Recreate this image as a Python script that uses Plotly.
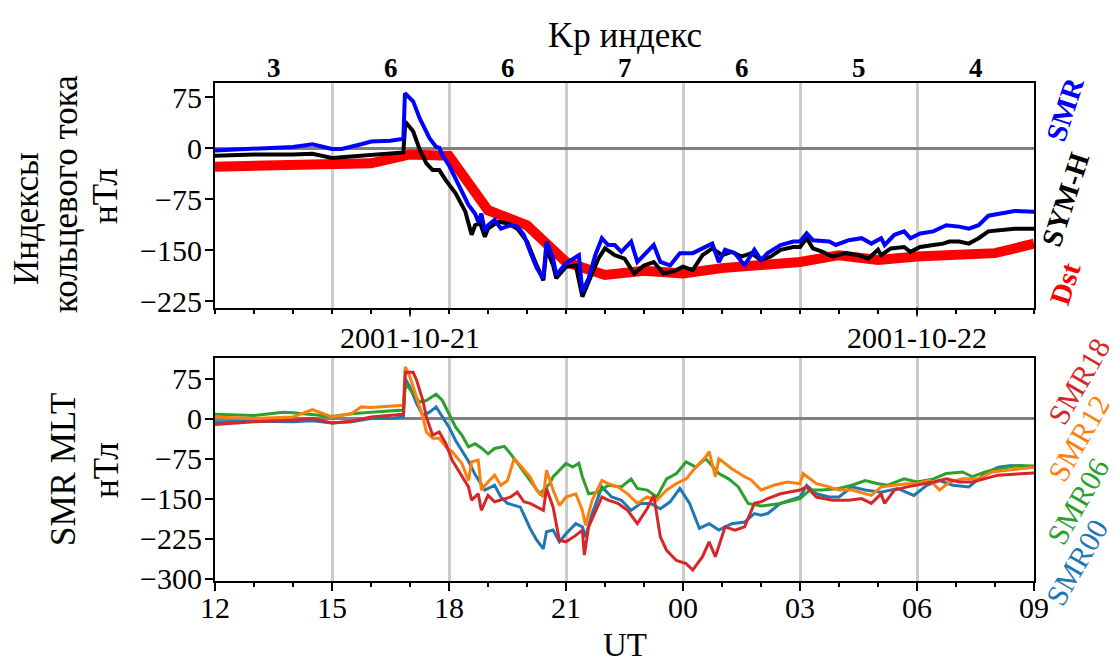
import plotly.graph_objects as go

# ---------------- data ----------------
hour_tick_vals = [12, 15, 18, 21, 24, 27, 30, 33]
hour_tick_text = ["12", "15", "18", "21", "00", "03", "06", "09"]
date_tick_vals = [17, 30]
date_tick_text = ["2001-10-21", "2001-10-22"]
kp_pos = [13.5, 16.5, 19.5, 22.5, 25.5, 28.5, 31.5]
kp_vals = ["3", "6", "6", "7", "6", "5", "4"]
top_yticks = [-225, -150, -75, 0, 75]
bot_yticks = [-300, -225, -150, -75, 0, 75]

# hours since 2001-10-21 00:00 UT
dst_t = list(range(12, 34))
dst_v = [-27, -26, -25, -24, -22, -9, -11, -91, -113, -167, -186, -180, -184,
         -176, -172, -167, -157, -164, -159, -157, -154, -140]

symh_t = [12.00, 13.00, 14.00, 14.50, 15.00, 15.50, 16.00, 16.50, 16.83, 16.88, 17.08, 17.25,
          17.42, 17.58, 17.75, 17.92, 18.17, 18.42, 18.58, 18.67, 18.80, 18.92, 19.00, 19.25,
          19.50, 19.75, 20.00, 20.25, 20.42, 20.50, 20.67, 20.75, 21.00, 21.25, 21.42, 21.58,
          21.83, 22.00, 22.25, 22.50, 22.75, 23.00, 23.25, 23.50, 23.75, 24.00, 24.25, 24.50,
          24.75, 25.00, 25.25, 25.50, 25.75, 26.00, 26.25, 26.50, 26.83, 27.00, 27.17, 27.33,
          27.58, 27.83, 28.17, 28.50, 28.75, 29.00, 29.08, 29.33, 29.67, 29.83, 30.08, 30.42,
          30.67, 30.83, 31.08, 31.33, 31.58, 31.83, 32.17, 32.50, 33.00]
symh_v = [-11, -9, -9, -8, -14, -12, -9, -7, -6, 39, 25, -2,
          -22, -32, -32, -47, -66, -93, -127, -113, -110, -130, -118, -108,
          -110, -118, -137, -172, -194, -147, -172, -191, -174, -172, -218, -196,
          -162, -147, -157, -162, -184, -172, -167, -184, -181, -174, -179, -157,
          -147, -157, -152, -159, -154, -164, -159, -149, -145, -145, -132, -147,
          -152, -159, -154, -157, -162, -149, -157, -147, -145, -152, -145, -142,
          -140, -137, -137, -140, -132, -122, -120, -118, -118]

smr_t = [12.00, 12.50, 13.00, 13.50, 14.00, 14.50, 14.75, 15.00, 15.25, 15.50, 15.75, 16.00,
         16.50, 16.83, 16.87, 17.08, 17.25, 17.50, 17.67, 17.75, 17.83, 18.00, 18.25, 18.50,
         18.67, 18.75, 18.83, 18.92, 19.00, 19.17, 19.33, 19.58, 19.75, 19.92, 20.08, 20.25,
         20.42, 20.50, 20.67, 20.75, 21.00, 21.17, 21.33, 21.42, 21.58, 21.75, 21.92, 22.08,
         22.25, 22.42, 22.67, 22.83, 23.08, 23.25, 23.42, 23.67, 23.92, 24.25, 24.50, 24.75,
         24.92, 25.08, 25.33, 25.58, 25.83, 26.00, 26.17, 26.50, 26.83, 27.00, 27.17, 27.33,
         27.75, 27.92, 28.25, 28.58, 28.83, 29.08, 29.17, 29.42, 29.67, 29.83, 30.08, 30.42,
         30.75, 31.08, 31.33, 31.58, 31.83, 32.17, 32.50, 33.00]
smr_v = [-3, -2, -1, 1, 2, 6, 3, -1, -1, 2, 6, 10,
         11, 14, 81, 69, 44, 15, 2, 1, -10, -25, -54, -83,
         -96, -108, -96, -122, -113, -105, -118, -113, -115, -127, -152, -176,
         -191, -137, -162, -186, -169, -162, -157, -211, -191, -157, -132, -142,
         -142, -152, -137, -167, -152, -142, -167, -172, -154, -154, -147, -140,
         -167, -149, -154, -172, -149, -164, -154, -142, -137, -137, -125, -135,
         -137, -142, -135, -132, -140, -132, -142, -127, -122, -132, -125, -122,
         -113, -115, -118, -113, -99, -96, -92, -93]

smr00_t = [12.00, 13.00, 14.00, 14.50, 15.00, 15.50, 16.00, 16.50, 16.83, 16.88, 17.00, 17.17,
           17.33, 17.50, 17.67, 17.83, 18.00, 18.17, 18.33, 18.50, 18.67, 18.92, 19.17, 19.33,
           19.50, 19.83, 20.08, 20.25, 20.42, 20.50, 20.67, 20.83, 21.00, 21.25, 21.42, 21.50,
           21.67, 21.92, 22.17, 22.42, 22.67, 22.92, 23.17, 23.42, 23.67, 23.92, 24.17, 24.42,
           24.67, 24.92, 25.25, 25.58, 25.83, 26.00, 26.17, 26.50, 27.00, 27.17, 27.42, 27.75,
           28.00, 28.33, 28.67, 29.08, 29.50, 29.92, 30.25, 30.58, 30.92, 31.33, 31.75, 32.08,
           32.42, 33.00]
smr00_v = [-6, -5, -6, -4, -8, -6, 0, 0, 3, 75, 59, 28,
           6, 12, 22, 3, -16, -41, -59, -80, -105, -134, -125, -147,
           -159, -166, -206, -228, -244, -212, -209, -231, -216, -197, -203, -222,
           -178, -128, -147, -153, -172, -159, -159, -169, -156, -131, -159, -206,
           -197, -209, -197, -194, -178, -181, -178, -159, -147, -125, -141, -147,
           -147, -128, -134, -138, -131, -144, -125, -116, -125, -128, -103, -91,
           -88, -91]

smr06_t = [12.00, 13.00, 13.75, 14.00, 15.00, 15.50, 16.00, 16.83, 16.88, 17.08, 17.25, 17.42,
           17.58, 17.67, 17.83, 18.00, 18.17, 18.33, 18.50, 18.67, 18.83, 19.00, 19.17, 19.42,
           19.58, 19.83, 20.08, 20.33, 20.58, 20.67, 20.83, 21.00, 21.17, 21.33, 21.42, 21.58,
           21.83, 22.08, 22.42, 22.67, 22.83, 23.08, 23.33, 23.58, 23.83, 24.08, 24.33, 24.58,
           24.92, 25.17, 25.42, 25.67, 26.00, 26.50, 27.00, 27.25, 27.58, 28.00, 28.33, 28.67,
           29.00, 29.25, 29.67, 30.00, 30.42, 30.75, 31.17, 31.42, 31.75, 32.08, 32.58, 33.00]
smr06_v = [8, 6, 12, 11, 4, 9, 12, 16, 66, 47, 31, 34,
           41, 46, 34, 9, -16, -31, -53, -47, -55, -66, -56, -52,
           -66, -91, -116, -141, -122, -109, -97, -84, -91, -84, -109, -141,
           -138, -125, -128, -113, -131, -134, -147, -113, -103, -81, -91, -75,
           -103, -113, -128, -159, -164, -159, -150, -134, -134, -131, -125, -116,
           -122, -125, -113, -119, -113, -103, -100, -109, -100, -94, -88, -89]

smr12_t = [12.00, 13.00, 14.00, 14.50, 15.00, 15.50, 15.75, 16.00, 16.83, 16.88, 17.00, 17.17,
           17.33, 17.42, 17.58, 17.75, 17.92, 18.08, 18.33, 18.50, 18.58, 18.75, 18.83, 19.00,
           19.17, 19.33, 19.50, 19.67, 19.83, 20.08, 20.25, 20.42, 20.50, 20.67, 20.83, 21.00,
           21.25, 21.42, 21.50, 21.67, 21.92, 22.08, 22.33, 22.58, 22.83, 23.08, 23.33, 23.58,
           23.83, 24.08, 24.33, 24.58, 24.67, 24.83, 24.92, 25.25, 25.58, 25.75, 26.00, 26.33,
           26.67, 27.00, 27.08, 27.42, 27.75, 28.00, 28.33, 28.83, 29.08, 29.42, 29.75, 30.00,
           30.33, 30.58, 30.83, 31.17, 31.58, 31.92, 32.33, 33.00]
smr12_v = [3, 0, 3, 17, 3, 9, 22, 21, 25, 97, 78, 41,
           3, -25, -37, -37, -53, -62, -84, -116, -81, -78, -134, -119,
           -106, -125, -116, -75, -88, -109, -134, -147, -97, -134, -163, -147,
           -141, -172, -200, -153, -116, -122, -128, -141, -159, -147, -153, -134,
           -122, -113, -91, -72, -62, -109, -75, -94, -109, -115, -134, -125,
           -119, -122, -103, -122, -128, -134, -134, -144, -128, -125, -122, -122,
           -116, -134, -119, -113, -113, -100, -97, -91]

smr18_t = [12.00, 12.50, 13.00, 14.00, 14.50, 15.00, 15.50, 16.00, 16.50, 16.83, 16.88, 17.08,
           17.17, 17.33, 17.42, 17.58, 17.75, 17.92, 18.08, 18.33, 18.50, 18.58, 18.75, 18.83,
           19.00, 19.17, 19.33, 19.58, 19.75, 19.92, 20.08, 20.42, 20.50, 20.67, 20.83, 21.00,
           21.25, 21.42, 21.47, 21.58, 21.92, 22.08, 22.33, 22.58, 22.83, 23.08, 23.25, 23.42,
           23.58, 23.83, 24.08, 24.25, 24.50, 24.67, 24.83, 25.08, 25.33, 25.58, 25.83, 26.00,
           26.17, 26.50, 27.00, 27.17, 27.42, 27.83, 28.25, 28.58, 28.83, 29.08, 29.17, 29.42,
           29.75, 30.00, 30.42, 30.75, 31.08, 31.42, 31.75, 32.08, 33.00]
smr18_v = [-11, -8, -6, -3, 0, -8, -5, 3, 6, 8, 87, 87,
           72, 34, 3, -31, -25, -47, -78, -109, -128, -153, -141, -172,
           -144, -156, -153, -147, -138, -156, -159, -172, -131, -166, -228, -231,
           -219, -209, -256, -203, -147, -153, -159, -172, -197, -169, -144, -222,
           -247, -266, -272, -284, -259, -231, -259, -203, -209, -203, -159, -156,
           -150, -141, -134, -128, -147, -153, -153, -150, -159, -141, -159, -134,
           -128, -125, -119, -113, -119, -119, -113, -106, -102]

# ---------------- layout geometry (page pixels) ----------------
PAGE_W, PAGE_H = 1117, 664
BODY = 8                       # default page margin of the html body
FIG_W, FIG_H = PAGE_W - BODY, PAGE_H - BODY
X0, X1 = 215.3, 1034.5         # plot area left / right on the page
Y0, Y1 = 82.7, 580.7           # plot area top / bottom on the page
PW, PH = X1 - X0, Y1 - Y0


def px(x):
    return (x - X0) / PW


def py(y):
    return (Y1 - y) / PH


FONT = "Liberation Serif, Times New Roman, serif"
GRID = "#cccccc"

fig = go.Figure()

# top panel
fig.add_trace(go.Scatter(x=dst_t, y=dst_v, mode="lines", name="Dst",
                         line=dict(color="#ff0000", width=10), xaxis="x", yaxis="y"))
fig.add_trace(go.Scatter(x=symh_t, y=symh_v, mode="lines", name="SYM-H",
                         line=dict(color="#000000", width=4), xaxis="x", yaxis="y"))
fig.add_trace(go.Scatter(x=smr_t, y=smr_v, mode="lines", name="SMR",
                         line=dict(color="#0000ff", width=4), xaxis="x", yaxis="y"))
# bottom panel
for t, v, c, n in [(smr00_t, smr00_v, "#1f77b4", "SMR00"),
                   (smr06_t, smr06_v, "#2ca02c", "SMR06"),
                   (smr12_t, smr12_v, "#ff7f0e", "SMR12"),
                   (smr18_t, smr18_v, "#d62728", "SMR18")]:
    fig.add_trace(go.Scatter(x=t, y=v, mode="lines", name=n,
                             line=dict(color=c, width=3), xaxis="x2", yaxis="y2"))

top_dom = [py(307.3), 1.0]
bot_dom = [0.0, py(357.3)]

common_x = dict(range=[12, 33], domain=[0, 1], showline=True, linecolor="black", linewidth=2,
                mirror=True, zeroline=False, automargin=False, fixedrange=True,
                tickmode="array", tickvals=hour_tick_vals, ticks="outside", tickwidth=1.5,
                tickcolor="black", showgrid=True, gridcolor=GRID, gridwidth=3,
                minor=dict(dtick=1, tick0=12, ticks="outside", ticklen=4, tickwidth=1.5,
                           tickcolor="black", showgrid=False))
common_y = dict(showline=True, linecolor="black", linewidth=2, mirror=True, showgrid=False,
                zeroline=True, zerolinecolor="#808080", zerolinewidth=3, ticks="outside",
                ticklen=8, tickwidth=1.5, tickcolor="black", automargin=False,
                ticklabelstandoff=-3, fixedrange=True,
                tickfont=dict(family=FONT, size=30, color="black"))

fig.update_layout(
    width=FIG_W, height=FIG_H,
    margin=dict(l=X0 - BODY, r=PAGE_W - X1, t=Y0 - BODY, b=PAGE_H - Y1, pad=0),
    paper_bgcolor="white", plot_bgcolor="white",
    showlegend=False,
    font=dict(family=FONT, color="black"),
    xaxis=dict(**common_x, anchor="y", showticklabels=False, ticklen=4),
    yaxis=dict(**common_y, domain=top_dom, range=[-234, 96], tickmode="array",
               tickvals=top_yticks, anchor="x"),
    xaxis2=dict(**common_x, anchor="y2", ticktext=hour_tick_text, ticklen=8,
                ticklabelstandoff=-9,
                tickfont=dict(family=FONT, size=30, color="black")),
    yaxis2=dict(**common_y, domain=bot_dom, range=[-304.5, 114.4], tickmode="array",
                tickvals=bot_yticks, anchor="x2"),
)

# longer ticks under the top panel where the dates are written
top_h = 307.3 - Y0
shapes = []
for d in date_tick_vals:
    shapes.append(dict(type="line", xref="x", yref="y domain", x0=d, x1=d, y0=0,
                       y1=-9 / top_h, line=dict(color="black", width=1.5)))
fig.update_layout(shapes=shapes)

ann = []


def label(text, x, y, size, color="black", angle=0, bold=False, xref="paper"):
    if bold:
        text = "<b>%s</b>" % text
    ann.append(dict(text=text, x=(px(x) if xref == "paper" else x), y=py(y),
                    xref=xref, yref="paper",
                    xanchor="center", yanchor="middle", showarrow=False, textangle=angle,
                    font=dict(family=FONT, size=size, color=color)))


# Kp index values above the top panel, dates below it
for pos, k in zip(kp_pos, kp_vals):
    label(k, pos, 68, 27, bold=True, xref="x")
for pos, d in zip(date_tick_vals, date_tick_text):
    label(d, pos, 337, 30, xref="x")

# axis titles
label("Kp индекс", 625, 35, 35)
label("UT", 625, 645, 33)
label("Индексы", 27, 218, 35, angle=-90)
label("кольцевого тока", 66, 194, 35, angle=-90)
label("нТл", 106, 196, 35, angle=-90)
label("SMR MLT", 64, 469, 35, angle=-90)
label("нТл", 107, 470, 35, angle=-90)

# right-hand series labels
label("SMR", 1066, 108, 29, color="#0000ff", angle=-72, bold=True)
label("SYM-H", 1066, 199, 29, color="#000000", angle=-72, bold=True)
label("Dst", 1066, 283, 29, color="#ff0000", angle=-72, bold=True)
label("SMR18", 1079, 381, 30, color="#d62728", angle=-60)
label("SMR12", 1079, 438, 30, color="#ff7f0e", angle=-60)
label("SMR06", 1078, 501, 30, color="#2ca02c", angle=-60)
label("SMR00", 1077, 562, 30, color="#1f77b4", angle=-60)

fig.update_layout(annotations=ann)
fig.write_html("out.html")
